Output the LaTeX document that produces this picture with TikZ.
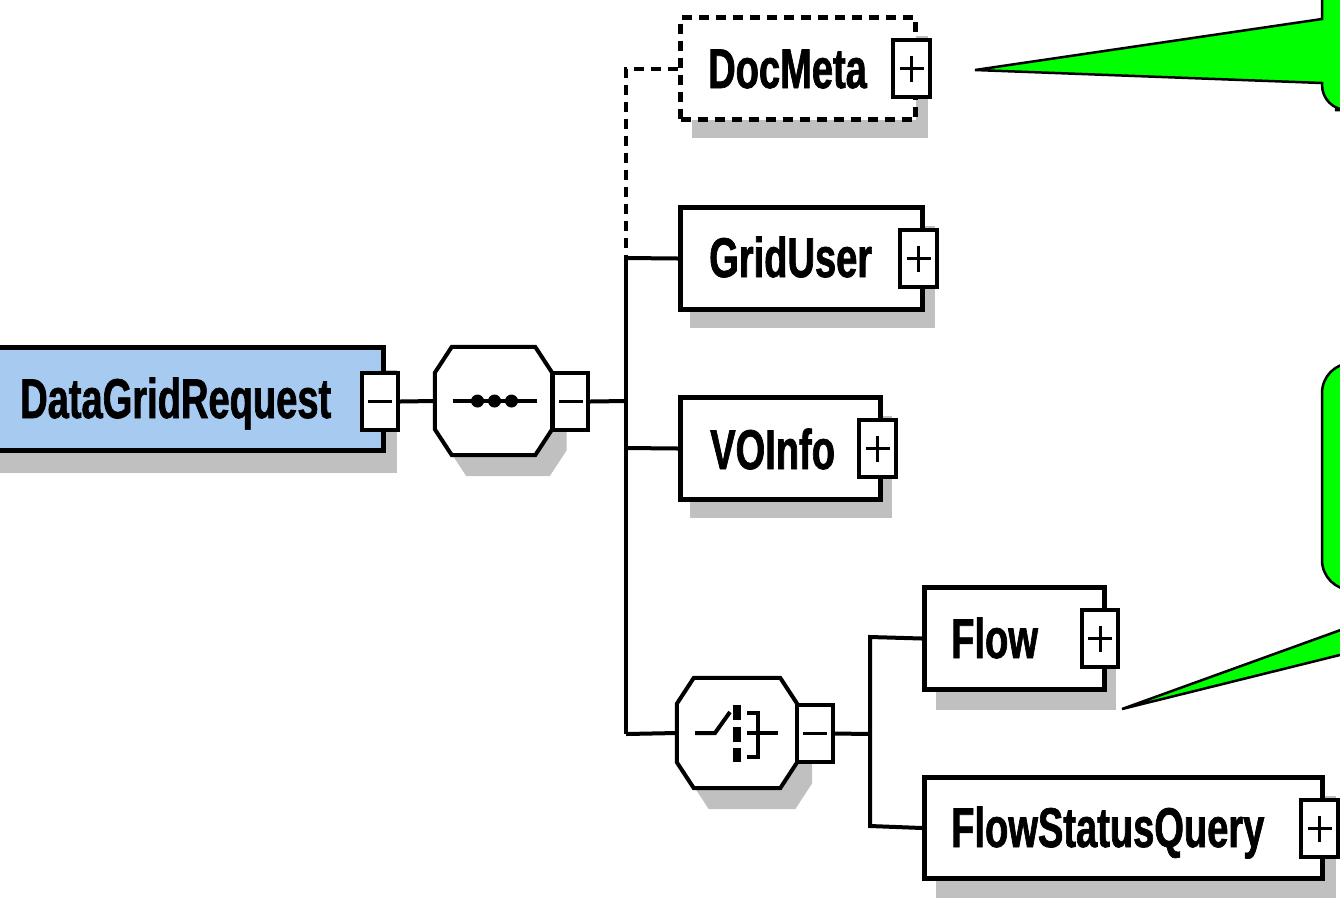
\documentclass[tikz,border=0pt]{standalone}
\usepackage{fontspec}
\setmainfont{Liberation Sans}[FakeStretch=0.68, BoldFeatures={FakeBold=1.2}]
\usetikzlibrary{calc}
\definecolor{elemblue}{RGB}{166,202,240}
\definecolor{shade}{RGB}{192,192,192}
\definecolor{notegreen}{RGB}{0,255,0}
\tikzset{
  elbox/.style={draw=black, line width=5pt, fill=white, inner sep=0pt, anchor=north west},
  shbox/.style={fill=shade, draw=none, inner sep=0pt, anchor=north west},
  pmbox/.style={draw=black, line width=4pt, fill=white, inner sep=0pt,
                minimum width=36pt, minimum height=57pt},
  sign/.style={line width=3pt},
  conn/.style={line width=4pt},
  optline/.style={line width=4pt, dash pattern=on 10pt off 7pt},
  lbl/.style={anchor=base west, inner sep=0pt,
              font=\fontsize{56}{60}\selectfont\bfseries},
  octbox/.style={inner sep=0pt, draw=none},
  octline/.style={draw=black, line width=4pt, fill=white, line join=miter},
  octshade/.style={fill=shade, draw=none},
  note/.style={fill=notegreen, draw=black, line width=2.5pt, line join=miter},
}
% octagonal compositor outline traced over the anchors of a rectangular node
\newcommand{\octpath}[2]{%
  \path[#2] ($(#1.north west)+(17,0)$) -- ($(#1.north east)+(-17,0)$)
    -- ($(#1.north east)+(0,26)$) -- ($(#1.south east)+(0,-26)$)
    -- ($(#1.south east)+(-17,0)$) -- ($(#1.south west)+(17,0)$)
    -- ($(#1.south west)+(0,-26)$) -- ($(#1.north west)+(0,26)$) -- cycle;}
\newcommand{\plussign}[1]{%
  \draw[sign] ($(#1.center)+(-12,0)$) -- ($(#1.center)+(12,0)$);
  \draw[sign] ($(#1.center)+(0,-13)$) -- ($(#1.center)+(0,13)$);}
\newcommand{\minussign}[1]{%
  \draw[sign] ($(#1.center)+(-12,0)$) -- ($(#1.center)+(12,0)$);}
\begin{document}
\begin{tikzpicture}[x=1pt, y=-1pt]
\useasboundingbox (0,0) rectangle (1340,922);
\clip (0,0) rectangle (1340,922);
\fill[white] (0,0) rectangle (1340,922);

% ---- drop shadows
\node[shbox, minimum width=397pt, minimum height=103pt] (dgr-sh) at (0,370) {};
\node[octbox, minimum width=117pt, minimum height=108pt] (seq-sh) at (508,422) {};
\octpath{seq-sh}{octshade}
\node[shbox, minimum width=236pt, minimum height=102pt] (docmeta-sh) at (692,36) {};
\node[shbox, minimum width=245pt, minimum height=102pt] (griduser-sh) at (690,226) {};
\node[shbox, minimum width=202pt, minimum height=102pt] (voinfo-sh) at (690,416) {};
\node[octbox, minimum width=120pt, minimum height=110pt] (choice-sh) at (752,754) {};
\octpath{choice-sh}{octshade}
\node[shbox, minimum width=180pt, minimum height=102pt] (flow-sh) at (936,608) {};
\node[shbox, minimum width=400pt, minimum height=102pt] (fsq-sh) at (936,796) {};

% ---- junction points
\coordinate (t-seq) at (626,401);
\coordinate (t-grid) at (626,258);
\coordinate (t-vo) at (626,448);
\coordinate (t-ch) at (626,734);
\coordinate (c-mid) at (870,734);
\coordinate (c-top) at (870,637);
\coordinate (c-bot) at (870,826);

% ---- root element
\node[elbox, fill=elemblue, minimum width=391pt, minimum height=103pt] (dgr) at (-10,345) {};
\node[lbl] (dgr-t) at (20,418) {DataGridRequest};
\node[pmbox] (dgr-pm) at (380,401.5) {};
\minussign{dgr-pm}

% ---- sequence compositor
\node[octbox, minimum width=117pt, minimum height=108pt] (seq) at (493.5,401) {};
\octpath{seq}{octline}
\draw[line width=4pt] ($(seq.center)+(-41,0)$) -- ($(seq.center)+(43,0)$);
\foreach \dx in {-16,1,18} \fill ($(seq.center)+(\dx,0)$) circle (6.5pt);
\node[pmbox, minimum width=35pt] (seq-pm) at (570.5,401.5) {};
\minussign{seq-pm}

\draw[conn] (dgr-pm.east) -- (seq.west);
\draw[conn] (seq-pm.east) -- (t-seq);

% ---- children of the sequence
\node[elbox, dash pattern=on 10pt off 7pt, minimum width=235pt, minimum height=102pt] (docmeta) at (678,15) {};
\node[lbl] (docmeta-t) at (708,88) {DocMeta};
\node[pmbox, minimum width=37pt] (docmeta-pm) at (911.5,68.5) {};
\plussign{docmeta-pm}

\node[elbox, minimum width=242pt, minimum height=102pt] (griduser) at (678,205) {};
\node[lbl] (griduser-t) at (709,277) {GridUser};
\node[pmbox, minimum width=37pt] (griduser-pm) at (918.5,258.5) {};
\plussign{griduser-pm}

\node[elbox, minimum width=200pt, minimum height=102pt] (voinfo) at (678,395) {};
\node[lbl] (voinfo-t) at (710,469) {VOInfo};
\node[pmbox, minimum width=37pt] (voinfo-pm) at (877.5,448.5) {};
\plussign{voinfo-pm}

\draw[optline] (docmeta.west) -| (t-grid);
\draw[conn] (t-grid) -- (t-ch);
\draw[conn] (t-grid) -- (griduser.west);
\draw[conn] (t-vo) -- (voinfo.west);

% ---- choice compositor
\node[octbox, minimum width=120pt, minimum height=110pt] (choice) at (737,733) {};
\octpath{choice}{octline}
\draw[line width=4pt] ($(choice.center)+(-42,0)$) -- ($(choice.center)+(-22,0)$) -- ($(choice.center)+(-7,-21)$);
\fill ($(choice.center)+(-4,-28)$) rectangle ($(choice.center)+(4,-13)$);
\fill ($(choice.center)+(-4,-6)$) rectangle ($(choice.center)+(4,9)$);
\fill ($(choice.center)+(-4,15)$) rectangle ($(choice.center)+(4,29)$);
\draw[line width=3.5pt] ($(choice.center)+(10,-20)$) -- ($(choice.center)+(21,-20)$) -- ($(choice.center)+(21,24)$) -- ($(choice.center)+(10,24)$);
\draw[line width=3.5pt] ($(choice.center)+(10,0)$) -- ($(choice.center)+(41,0)$);
\node[pmbox] (choice-pm) at (815,733.5) {};
\minussign{choice-pm}

\draw[conn] (t-ch) -- (choice.west);
\draw[conn] (choice-pm.east) -- (c-mid);

\node[elbox, minimum width=180pt, minimum height=102pt] (flow) at (922,585) {};
\node[lbl] (flow-t) at (951,658) {Flow};
\node[pmbox] (flow-pm) at (1100,638.5) {};
\plussign{flow-pm}

\node[elbox, minimum width=398pt, minimum height=101pt] (fsq) at (922,775) {};
\node[lbl] (fsq-t) at (951,847) {FlowStatusQuery};
\node[pmbox, minimum width=37pt] (fsq-pm) at (1319.5,828.5) {};
\plussign{fsq-pm}

\draw[conn] (flow.west) -- (c-top) -- (c-bot) -- (fsq.west);

% ---- annotation balloons
\coordinate (tip-a) at (975,70);
\coordinate (tip-b) at (1122,709);
\path[note] (1360,-10) -- (1322,-10) -- (1322,19) -- (tip-a) -- (1322,83)
  [rounded corners=25pt] -- (1322,110) -- (1360,110) [sharp corners] -- cycle;
\path[note, rounded corners=30pt] (1360,363) -- (1322,363) -- (1322,590) -- (1360,590);
\path[note] (tip-b) -- (1360,623) -- (1360,650) -- cycle;
\end{tikzpicture}
\end{document}
